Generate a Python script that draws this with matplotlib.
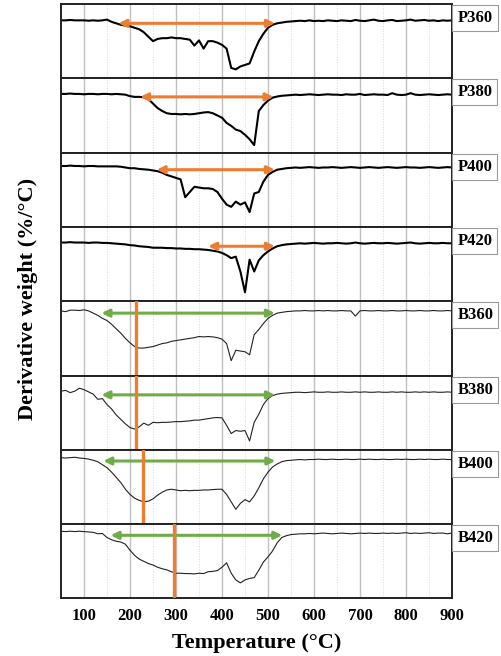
import numpy as np
import matplotlib
matplotlib.use("Agg")
import matplotlib.pyplot as plt
from matplotlib.ticker import MultipleLocator

plt.rcParams['font.family'] = ['Liberation Serif', 'DejaVu Serif']
plt.rcParams['font.weight'] = 'bold'

# temperature grid (°C), one value every 10 degrees
temps = np.arange(50, 901, 10)

samples = ["P360", "P380", "P400", "P420", "B360", "B380", "B400", "B420"]

# derivative weight, normalised to the height of each panel
p360 = [0.78, 0.78, 0.785, 0.78, 0.78, 0.78, 0.775, 0.78, 0.775, 0.78,
        0.79, 0.76, 0.74, 0.72, 0.71, 0.70, 0.68, 0.66, 0.62, 0.56,
        0.50, 0.53, 0.54, 0.54, 0.55, 0.54, 0.54, 0.53, 0.52, 0.44,
        0.51, 0.40, 0.50, 0.50, 0.48, 0.45, 0.40, 0.14, 0.12, 0.16,
        0.18, 0.20, 0.36, 0.50, 0.60, 0.68, 0.72, 0.74, 0.75, 0.76,
        0.765, 0.77, 0.775, 0.77, 0.78, 0.77, 0.775, 0.77, 0.78, 0.775,
        0.77, 0.78, 0.775, 0.77, 0.785, 0.775, 0.77, 0.78, 0.79, 0.775,
        0.77, 0.78, 0.785, 0.77, 0.775, 0.78, 0.79, 0.775, 0.78, 0.785,
        0.775, 0.78, 0.77, 0.78, 0.775, 0.78]
p380 = [0.79, 0.79, 0.795, 0.79, 0.79, 0.785, 0.79, 0.79, 0.785, 0.79,
        0.79, 0.785, 0.79, 0.785, 0.78, 0.76, 0.75, 0.75, 0.745, 0.72,
        0.66, 0.60, 0.56, 0.53, 0.52, 0.52, 0.515, 0.52, 0.515, 0.52,
        0.53, 0.54, 0.545, 0.53, 0.50, 0.47, 0.40, 0.36, 0.31, 0.29,
        0.24, 0.18, 0.10, 0.56, 0.64, 0.70, 0.74, 0.755, 0.765, 0.77,
        0.775, 0.78, 0.775, 0.78, 0.785, 0.78, 0.775, 0.78, 0.785, 0.78,
        0.78, 0.775, 0.785, 0.78, 0.78, 0.79, 0.775, 0.78, 0.785, 0.78,
        0.78, 0.775, 0.80, 0.78, 0.775, 0.78, 0.80, 0.78, 0.775, 0.78,
        0.785, 0.78, 0.775, 0.78, 0.785, 0.78]
p400 = [0.82, 0.82, 0.825, 0.82, 0.82, 0.815, 0.82, 0.82, 0.815, 0.815,
        0.815, 0.815, 0.815, 0.81, 0.80, 0.79, 0.79, 0.78, 0.775, 0.77,
        0.76, 0.75, 0.73, 0.70, 0.68, 0.66, 0.64, 0.40, 0.47, 0.54,
        0.53, 0.52, 0.52, 0.51, 0.47, 0.38, 0.30, 0.27, 0.34, 0.30,
        0.33, 0.20, 0.45, 0.47, 0.61, 0.70, 0.74, 0.77, 0.78, 0.79,
        0.795, 0.80, 0.795, 0.80, 0.805, 0.80, 0.795, 0.80, 0.80, 0.805,
        0.80, 0.795, 0.80, 0.805, 0.80, 0.795, 0.80, 0.805, 0.80, 0.795,
        0.80, 0.805, 0.80, 0.795, 0.80, 0.805, 0.80, 0.80, 0.795, 0.80,
        0.805, 0.80, 0.795, 0.80, 0.805, 0.80]
p420 = [0.79, 0.79, 0.795, 0.79, 0.79, 0.79, 0.785, 0.79, 0.79, 0.785,
        0.785, 0.78, 0.775, 0.77, 0.765, 0.755, 0.75, 0.74, 0.735, 0.73,
        0.72, 0.72, 0.72, 0.715, 0.715, 0.71, 0.71, 0.705, 0.705, 0.70,
        0.70, 0.695, 0.69, 0.68, 0.67, 0.65, 0.62, 0.58, 0.60, 0.40,
        0.12, 0.56, 0.40, 0.55, 0.62, 0.67, 0.71, 0.74, 0.755, 0.765,
        0.77, 0.775, 0.78, 0.775, 0.78, 0.785, 0.78, 0.775, 0.78, 0.78,
        0.785, 0.78, 0.775, 0.78, 0.79, 0.78, 0.775, 0.78, 0.785, 0.78,
        0.78, 0.785, 0.78, 0.775, 0.78, 0.785, 0.79, 0.78, 0.775, 0.78,
        0.785, 0.78, 0.78, 0.785, 0.78, 0.78]
b360 = [0.87, 0.86, 0.88, 0.88, 0.875, 0.885, 0.87, 0.84, 0.81, 0.77,
        0.74, 0.69, 0.63, 0.57, 0.50, 0.44, 0.39, 0.37, 0.37, 0.38,
        0.39, 0.41, 0.43, 0.44, 0.46, 0.47, 0.48, 0.49, 0.50, 0.51,
        0.525, 0.52, 0.525, 0.52, 0.51, 0.49, 0.43, 0.20, 0.34, 0.33,
        0.32, 0.28, 0.55, 0.62, 0.70, 0.77, 0.81, 0.84, 0.85, 0.86,
        0.865, 0.87, 0.87, 0.875, 0.87, 0.87, 0.875, 0.87, 0.875, 0.87,
        0.87, 0.875, 0.87, 0.87, 0.80, 0.87, 0.875, 0.87, 0.87, 0.875,
        0.87, 0.87, 0.875, 0.87, 0.87, 0.875, 0.87, 0.87, 0.875, 0.87,
        0.87, 0.875, 0.87, 0.87, 0.875, 0.87]
b380 = [0.79, 0.80, 0.77, 0.79, 0.83, 0.81, 0.78, 0.75, 0.68, 0.69,
        0.61, 0.55, 0.47, 0.41, 0.35, 0.30, 0.28, 0.31, 0.36, 0.33,
        0.37, 0.365, 0.37, 0.37, 0.375, 0.38, 0.38, 0.385, 0.39, 0.40,
        0.40, 0.41, 0.42, 0.43, 0.435, 0.43, 0.33, 0.22, 0.26, 0.25,
        0.26, 0.12, 0.37, 0.48, 0.61, 0.69, 0.73, 0.75, 0.76, 0.765,
        0.77, 0.775, 0.775, 0.77, 0.775, 0.78, 0.775, 0.775, 0.78, 0.775,
        0.775, 0.78, 0.775, 0.775, 0.78, 0.775, 0.78, 0.775, 0.775, 0.78,
        0.775, 0.775, 0.78, 0.775, 0.78, 0.775, 0.775, 0.78, 0.775, 0.78,
        0.775, 0.78, 0.775, 0.775, 0.78, 0.775]
b400 = [0.895, 0.89, 0.895, 0.90, 0.89, 0.885, 0.875, 0.86, 0.84, 0.80,
        0.76, 0.70, 0.63, 0.56, 0.47, 0.40, 0.35, 0.32, 0.30, 0.31,
        0.34, 0.39, 0.43, 0.46, 0.47, 0.46, 0.45, 0.455, 0.45, 0.455,
        0.455, 0.46, 0.46, 0.465, 0.47, 0.47, 0.40, 0.30, 0.20, 0.28,
        0.33, 0.30, 0.38, 0.49, 0.61, 0.70, 0.77, 0.81, 0.84, 0.855,
        0.86, 0.865, 0.87, 0.865, 0.87, 0.87, 0.875, 0.87, 0.87, 0.875,
        0.87, 0.87, 0.875, 0.87, 0.87, 0.875, 0.87, 0.875, 0.87, 0.87,
        0.875, 0.87, 0.87, 0.875, 0.87, 0.875, 0.87, 0.87, 0.875, 0.87,
        0.875, 0.87, 0.87, 0.875, 0.87, 0.87]
b420 = [0.905, 0.90, 0.905, 0.90, 0.905, 0.90, 0.895, 0.89, 0.87, 0.875,
        0.82, 0.79, 0.77, 0.76, 0.73, 0.65, 0.58, 0.53, 0.50, 0.47,
        0.45, 0.42, 0.40, 0.385, 0.36, 0.34, 0.34, 0.335, 0.335, 0.33,
        0.34, 0.335, 0.36, 0.365, 0.375, 0.42, 0.48, 0.34, 0.25, 0.21,
        0.25, 0.27, 0.28, 0.38, 0.49, 0.56, 0.64, 0.75, 0.82, 0.845,
        0.86, 0.865, 0.87, 0.87, 0.875, 0.87, 0.875, 0.88, 0.875, 0.87,
        0.875, 0.88, 0.875, 0.87, 0.875, 0.88, 0.875, 0.88, 0.875, 0.875,
        0.88, 0.875, 0.88, 0.875, 0.88, 0.885, 0.875, 0.88, 0.875, 0.88,
        0.885, 0.875, 0.88, 0.88, 0.87, 0.88]

curves = [p360, p380, p400, p420, b360, b380, b400, b420]

# double arrows: start / end temperature and height in the panel
arrow_start = [175, 222, 258, 370, 138, 138, 142, 158]
arrow_end = [515, 512, 515, 515, 515, 515, 516, 531]
arrow_y = [0.74, 0.75, 0.77, 0.74, 0.84, 0.74, 0.85, 0.85]

# vertical markers (peak temperature) for the B samples
peak_temp = [None, None, None, None, 212, 212, 228, 295]

orange = "#ED7D31"
green = "#70AD47"

fig, axes = plt.subplots(8, 1, figsize=(5.02, 6.56), dpi=100, sharex=True)
fig.subplots_adjust(left=0.1215, right=0.9004, top=0.9939, bottom=0.0877, hspace=0)

for i, ax in enumerate(axes):
    is_p = samples[i].startswith("P")
    if is_p:
        ax.plot(temps, curves[i], color="black", lw=1.5)
    else:
        ax.plot(temps, curves[i], color="#222222", lw=0.8)

    col = orange if is_p else green
    ax.annotate("", xy=(arrow_end[i], arrow_y[i]), xytext=(arrow_start[i], arrow_y[i]),
                arrowprops=dict(arrowstyle="<|-|>", color=col, lw=2.2,
                                mutation_scale=11, shrinkA=0, shrinkB=0))
    if peak_temp[i] is not None:
        ax.axvline(peak_temp[i], color=orange, lw=2.4, zorder=3)

    ax.set_xlim(50, 900)
    ax.set_ylim(0, 1)
    ax.set_yticks([])
    ax.xaxis.set_major_locator(MultipleLocator(100))
    ax.xaxis.set_minor_locator(MultipleLocator(50))
    ax.grid(True, which="major", axis="x", color="#C0C0C0", lw=1.0)
    ax.grid(True, which="minor", axis="x", color="#D8D8D8", lw=0.7, ls=":")
    ax.set_axisbelow(True)
    ax.tick_params(axis="x", which="both", length=0, pad=7, labelsize=12)
    for s in ax.spines.values():
        s.set_color("#222222")
        s.set_linewidth(1.4)

    ax.text(1.014, 0.81, samples[i], transform=ax.transAxes, ha="left", va="center",
            fontsize=12, fontweight="bold",
            bbox=dict(boxstyle="square,pad=0.3", fc="white", ec="#999999", lw=0.8),
            clip_on=False)

for lab in axes[-1].get_xticklabels():
    lab.set_fontweight("bold")

fig.text((0.1215 + 0.9004) / 2, 0.02, "Temperature (°C)", ha="center", va="center",
         fontsize=16, fontweight="bold")
fig.text(0.055, 0.545, "Derivative weight (%/°C)", ha="center", va="center",
         rotation=90, fontsize=16, fontweight="bold")

plt.savefig("out.png", dpi=100)
